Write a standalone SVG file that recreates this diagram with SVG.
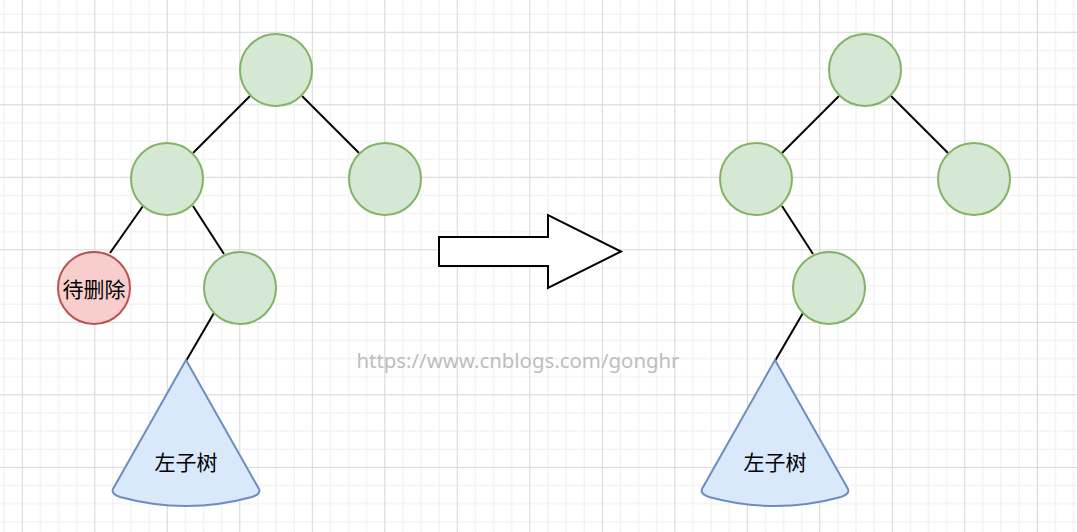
<svg xmlns="http://www.w3.org/2000/svg" width="1077" height="532" viewBox="0 0 1077 532">
<defs>
<pattern id="grid" patternUnits="userSpaceOnUse" x="21.8" y="31.8" width="72.5" height="72.5">
<path d="M18.625,0V72.5M36.75,0V72.5M54.875,0V72.5M0,18.625H72.5M0,36.75H72.5M0,54.875H72.5" stroke="#eeeeee" stroke-width="1" fill="none"/>
<path d="M0.5,0V72.5M0,0.5H72.5" stroke="#d6d6d6" stroke-width="1" fill="none"/>
</pattern>
<style>
.g{fill:#d5e8d4;stroke:#82b366;stroke-width:2}
.r{fill:#f8cecc;stroke:#b85450;stroke-width:2}
.b{fill:#dae8fc;stroke:#6c8ebf;stroke-width:2}
.e{stroke:#000;stroke-width:2;fill:none}
.t{font-family:"Noto Sans CJK SC","Noto Sans",sans-serif;font-size:21px;fill:#000;text-anchor:middle;dominant-baseline:central}
</style>
</defs>
<rect width="1077" height="532" fill="#fff"/>
<rect width="1077" height="532" fill="url(#grid)"/>
<g id="connectors">
<line class="e" x1="250" y1="96" x2="193" y2="153"/>
<line class="e" x1="302" y1="96" x2="359" y2="153"/>
<line class="e" x1="143" y1="206" x2="110" y2="253"/>
<line class="e" x1="193" y1="206" x2="224" y2="254"/>
<line class="e" x1="214" y1="313" x2="186" y2="361"/>
<line class="e" x1="839" y1="96" x2="782" y2="153"/>
<line class="e" x1="891" y1="96" x2="948" y2="153"/>
<line class="e" x1="782" y1="206" x2="813" y2="254"/>
<line class="e" x1="803" y1="313" x2="775" y2="361"/>
</g>
<g id="L-root"><circle class="g" cx="276" cy="70" r="36"/></g>
<g id="L-left"><circle class="g" cx="167" cy="179" r="36"/></g>
<g id="L-right"><circle class="g" cx="385" cy="179" r="36"/></g>
<g id="L-del"><circle class="r" cx="94" cy="288" r="36"/><text class="t" x="94" y="288">待删除</text></g>
<g id="L-child"><circle class="g" cx="240" cy="288" r="36"/></g>
<g id="L-subtree"><path class="b" d="M186,360 L113,489 Q111,494 120,497 Q186,515 252,497 Q261,494 259,489 Z"/><text class="t" x="186" y="461">左子树</text></g>
<g id="arrow"><path d="M439,237 H548 V215 L621,251.5 L548,288 V266 H439 Z" fill="#fff" stroke="#000" stroke-width="2"/></g>
<g id="R-root"><circle class="g" cx="865" cy="70" r="36"/></g>
<g id="R-left"><circle class="g" cx="756" cy="179" r="36"/></g>
<g id="R-right"><circle class="g" cx="974" cy="179" r="36"/></g>
<g id="R-child"><circle class="g" cx="829" cy="288" r="36"/></g>
<g id="R-subtree"><path class="b" d="M775,360 L702,489 Q700,494 709,497 Q775,515 841,497 Q850,494 848,489 Z"/><text class="t" x="775" y="461">左子树</text></g>
<text x="518" y="360" font-family="'Noto Sans','Open Sans',sans-serif" font-size="20.4" fill="#bdbdbd" text-anchor="middle" dominant-baseline="central">https://www.cnblogs.com/gonghr</text>
</svg>
